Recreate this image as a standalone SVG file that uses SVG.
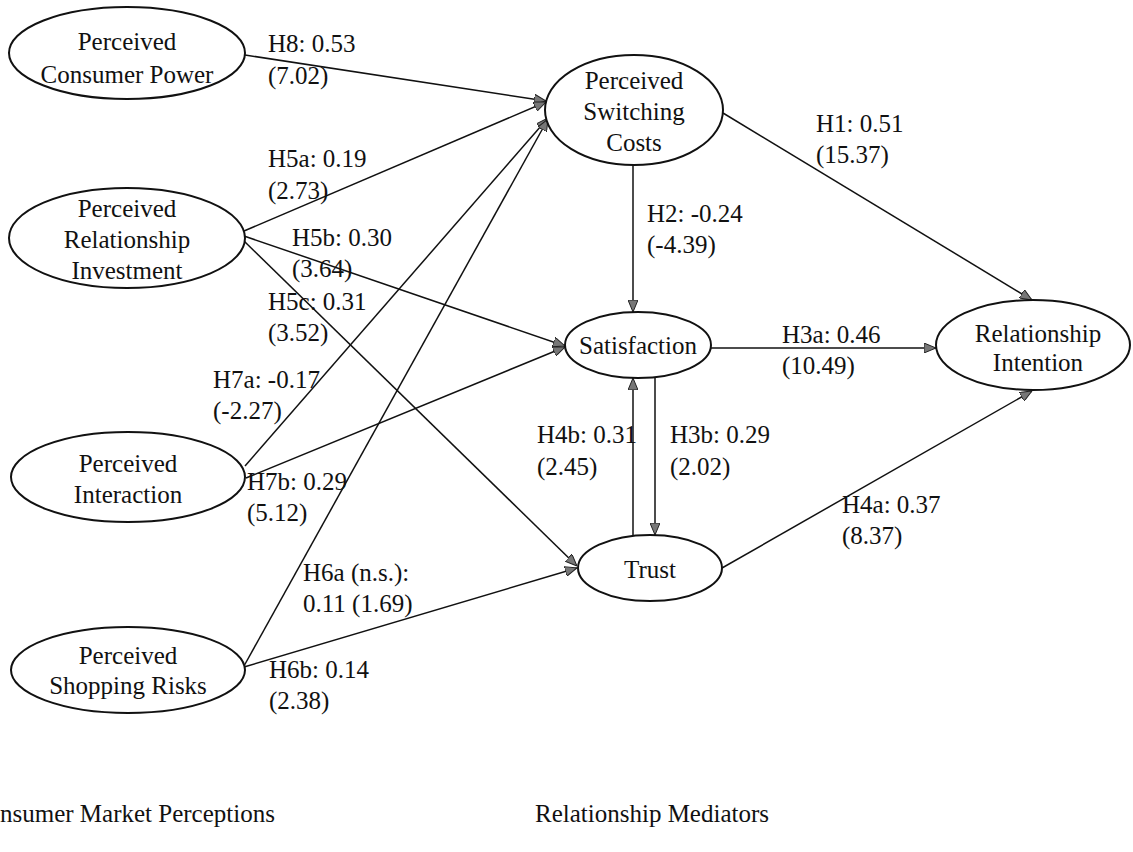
<svg xmlns="http://www.w3.org/2000/svg" width="1133" height="852" viewBox="0 0 1133 852">
<style>
text{font-family:"Liberation Serif","Times New Roman",serif;font-size:25px;fill:#111}
.node ellipse{fill:#fff;stroke:#111;stroke-width:2}
.node text{text-anchor:middle}
#connectors line{stroke:#111;stroke-width:1.5;fill:none}
.arr{marker-end:url(#ah)}
</style>
<defs>
<marker id="ah" viewBox="0 0 12 10" refX="12" refY="5" markerWidth="12" markerHeight="10" markerUnits="userSpaceOnUse" orient="auto">
<path d="M0,0 L12,5 L0,10 Z" fill="#777" stroke="#222" stroke-width="1"/>
</marker>
</defs>
<rect width="1133" height="852" fill="#fff"/>
<g id="connectors">
<line class="arr" x1="245" y1="55" x2="546" y2="101"/>
<line class="arr" x1="244" y1="231" x2="546" y2="102"/>
<line class="arr" x1="244" y1="236" x2="565" y2="346"/>
<line class="arr" x1="244" y1="241" x2="577" y2="566"/>
<line class="arr" x1="245" y1="466" x2="548" y2="118"/>
<line class="arr" x1="246" y1="478" x2="565" y2="347"/>
<line class="arr" x1="244" y1="666" x2="548" y2="119"/>
<line class="arr" x1="244" y1="667" x2="577" y2="568"/>
<line class="arr" x1="723" y1="113" x2="1032" y2="300"/>
<line class="arr" x1="633" y1="165" x2="633" y2="312"/>
<line class="arr" x1="711" y1="348" x2="936" y2="348"/>
<line class="arr" x1="633" y1="537" x2="633" y2="378"/>
<line class="arr" x1="655" y1="377" x2="655" y2="535"/>
<line class="arr" x1="722" y1="568" x2="1032" y2="391"/>
</g>
<g id="labels">
<text x="268" y="52">H8: 0.53</text>
<text x="268" y="84">(7.02)</text>
<text x="268" y="167">H5a: 0.19</text>
<text x="268" y="199">(2.73)</text>
<text x="292" y="246">H5b: 0.30</text>
<text x="292" y="277">(3.64)</text>
<text x="268" y="310">H5c: 0.31</text>
<text x="268" y="341">(3.52)</text>
<text x="213" y="388">H7a: -0.17</text>
<text x="213" y="419">(-2.27)</text>
<text x="247" y="490">H7b: 0.29</text>
<text x="247" y="521">(5.12)</text>
<text x="303" y="581">H6a (n.s.):</text>
<text x="303" y="612">0.11 (1.69)</text>
<text x="269" y="678">H6b: 0.14</text>
<text x="269" y="709">(2.38)</text>
<text x="816" y="132">H1: 0.51</text>
<text x="816" y="163">(15.37)</text>
<text x="647" y="222">H2: -0.24</text>
<text x="647" y="253">(-4.39)</text>
<text x="782" y="343">H3a: 0.46</text>
<text x="782" y="374">(10.49)</text>
<text x="537" y="443">H4b: 0.31</text>
<text x="537" y="475">(2.45)</text>
<text x="670" y="443">H3b: 0.29</text>
<text x="670" y="475">(2.02)</text>
<text x="842" y="513">H4a: 0.37</text>
<text x="842" y="544">(8.37)</text>
<text x="0" y="822">nsumer Market Perceptions</text>
<text x="535" y="822">Relationship Mediators</text>
</g>
<g id="consumer-power" class="node">
<ellipse cx="127" cy="53" rx="118" ry="46"/>
<text x="127" y="50">Perceived</text>
<text x="127" y="83">Consumer Power</text>
</g>
<g id="relationship-investment" class="node">
<ellipse cx="127" cy="238" rx="118" ry="50"/>
<text x="127" y="217">Perceived</text>
<text x="127" y="248">Relationship</text>
<text x="127" y="279">Investment</text>
</g>
<g id="interaction" class="node">
<ellipse cx="128" cy="477" rx="117" ry="45"/>
<text x="128" y="472">Perceived</text>
<text x="128" y="503">Interaction</text>
</g>
<g id="shopping-risks" class="node">
<ellipse cx="128" cy="670" rx="117" ry="43"/>
<text x="128" y="664">Perceived</text>
<text x="128" y="694">Shopping Risks</text>
</g>
<g id="switching-costs" class="node">
<ellipse cx="634" cy="110" rx="89" ry="55"/>
<text x="634" y="89">Perceived</text>
<text x="634" y="120">Switching</text>
<text x="634" y="151">Costs</text>
</g>
<g id="satisfaction" class="node">
<ellipse cx="638" cy="345" rx="73" ry="33"/>
<text x="638" y="354">Satisfaction</text>
</g>
<g id="relationship-intention" class="node">
<ellipse cx="1033" cy="345" rx="97" ry="45"/>
<text x="1038" y="342">Relationship</text>
<text x="1038" y="371">Intention</text>
</g>
<g id="trust" class="node">
<ellipse cx="650" cy="568" rx="72" ry="33"/>
<text x="650" y="578">Trust</text>
</g>
</svg>
